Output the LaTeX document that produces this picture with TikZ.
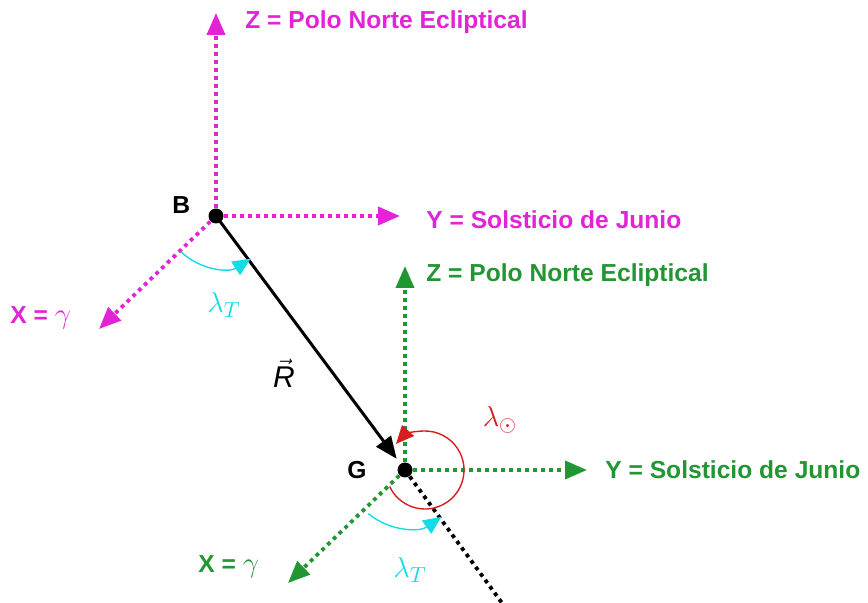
\documentclass[tikz,border=0pt]{standalone}
\usepackage{fontspec}
\setmainfont{Liberation Sans}
\usetikzlibrary{arrows.meta}
\definecolor{ecmag}{RGB}{226,36,214}
\definecolor{ecgreen}{RGB}{34,150,50}
\definecolor{eccyan}{RGB}{20,220,230}
\definecolor{ecred}{RGB}{214,30,30}

\begin{document}
\begin{tikzpicture}[x=0.5pt, y=-0.5pt,
	axis/.style={line width=1.9pt, dash pattern=on 1.9pt off 2.1pt, -{Triangle[length=11pt,width=9pt]}},
	lbl/.style={anchor=west, font=\bfseries\fontsize{12.3}{14}\selectfont, inner sep=0pt},
	ang/.style={font=\fontsize{15}{17}\selectfont, inner sep=0pt},
	turn/.style={line width=0.7pt, -{Triangle[length=9pt,width=8pt]}},
	dot/.style={circle, fill=black, inner sep=0pt, minimum size=7.5pt}]
	\useasboundingbox (0, 0) rectangle (868, 603);
	% Points and axis ends (angles below count clockwise, y points down):
	\coordinate (B) at (216, 216);
	\coordinate (G) at (405, 470);
	\coordinate (S) at (425, 470);
	\coordinate (Bz) at (216, 13);
	\coordinate (By) at (400, 216);
	\coordinate (Bx) at (99, 329);
	\coordinate (Gz) at (405, 266);
	\coordinate (Gy) at (587, 470);
	\coordinate (Gx) at (288, 583);
	\coordinate (Rend) at (502, 603);
	% Paths:
	\draw[axis, ecmag] (B) -- (Bz);
	\draw[axis, ecmag] (B) -- (By);
	\draw[axis, ecmag] (B) -- (Bx);
	\draw[axis, ecgreen] (G) -- (Gz);
	\draw[axis, ecgreen] (G) -- (Gy);
	\draw[axis, ecgreen] (G) -- (Gx);
	\draw[line width=1.9pt, dash pattern=on 1.9pt off 2.1pt] (G) -- (Rend);
	\draw[line width=1.5pt, -{Triangle[length=11pt,width=9pt]}, shorten >=7pt] (B) -- (G);
	\draw[turn, eccyan] ([shift={(134:50)}]B) arc[start angle=134, end angle=57, radius=56];
	\draw[turn, eccyan] ([shift={(130:57)}]G) arc[start angle=130, end angle=55, radius=60];
	\draw[turn, ecred] ([shift={(155:39)}]S) arc[start angle=155, end angle=-138, radius=39];
	\node[dot] (dotB) at (B) {};
	\node[dot] (dotG) at (G) {};
	% Labels:
	\node[lbl, ecmag] (bz) at (245, 22) {Z = Polo Norte Ecliptical};
	\node[lbl, ecmag] (by) at (426, 220) {Y = Solsticio de Junio};
	\node[lbl, ecmag] (bx) at (10, 318) {X = \normalfont\fontsize{15}{17}\selectfont$\gamma$};
	\node[lbl] (nameB) at (172, 205) {B};
	\node[ang, eccyan] (lamB) at (224, 305) {$\lambda_T$};
	\node[ang] (vecR) at (284, 373) {$\vec{\hbox{\itshape R}}$};
	\node[lbl, ecgreen] (gz) at (426, 275) {Z = Polo Norte Ecliptical};
	\node[lbl, ecgreen] (gy) at (605, 470) {Y = Solsticio de Junio};
	\node[lbl, ecgreen] (gx) at (198, 567) {X = \normalfont\fontsize{15}{17}\selectfont$\gamma$};
	\node[lbl] (nameG) at (347, 470) {G};
	\node[ang, ecred] (lamS) at (500, 420) {$\lambda_\odot$};
	\node[ang, eccyan] (lamG) at (410, 570) {$\lambda_T$};
\end{tikzpicture}
\end{document}
